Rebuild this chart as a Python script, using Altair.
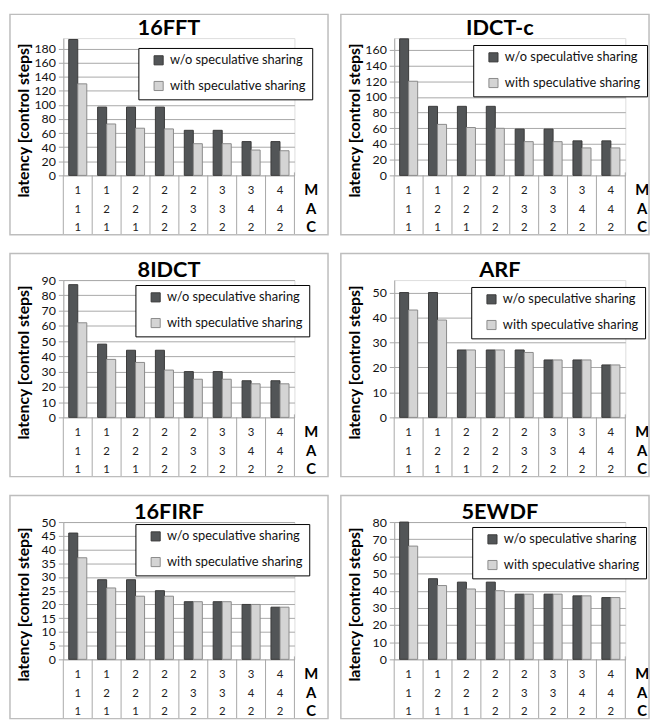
import altair as alt
import pandas as pd

# ---------------- data ----------------
CATS = ["g1", "g2", "g3", "g4", "g5", "g6", "g7", "g8"]
M_ROW = [1, 1, 2, 2, 2, 3, 3, 4]
A_ROW = [1, 2, 2, 2, 3, 3, 4, 4]
C_ROW = [1, 1, 1, 2, 2, 2, 2, 2]
ROW_NAMES = ["M", "A", "C"]
SERIES = ["w/o speculative sharing", "with speculative sharing"]
Y_TITLE = "latency [control steps]"

TITLES = ["16FFT", "IDCT-c", "8IDCT", "ARF", "16FIRF", "5EWDF"]

FFT16_WO = [193, 97, 97, 97, 64, 64, 48, 48]
FFT16_WITH = [130, 73, 67, 66, 45, 45, 36, 35]
IDCTC_WO = [174, 88, 88, 88, 59, 59, 44, 44]
IDCTC_WITH = [120, 65, 61, 60, 43, 43, 35, 35]
IDCT8_WO = [87, 48, 44, 44, 30, 30, 24, 24]
IDCT8_WITH = [62, 38, 36, 31, 25, 25, 22, 22]
ARF_WO = [50, 50, 27, 27, 27, 23, 23, 21]
ARF_WITH = [43, 39, 27, 27, 26, 23, 23, 21]
FIRF16_WO = [46, 29, 29, 25, 21, 21, 20, 19]
FIRF16_WITH = [37, 26, 23, 23, 21, 21, 20, 19]
EWDF5_WO = [80, 47, 45, 45, 38, 38, 37, 36]
EWDF5_WITH = [66, 43, 41, 40, 38, 38, 37, 36]

WO = [FFT16_WO, IDCTC_WO, IDCT8_WO, ARF_WO, FIRF16_WO, EWDF5_WO]
WITH = [FFT16_WITH, IDCTC_WITH, IDCT8_WITH, ARF_WITH, FIRF16_WITH, EWDF5_WITH]
Y_MAX = [195, 175, 90, 55, 50, 80]
Y_STEP = [20, 20, 10, 10, 5, 10]

# ---------------- style ----------------
FONT = "Lato"
DARK, DARK_EDGE = "#525557", "#3a3a3a"
LIGHT, LIGHT_EDGE = "#d4d4d4", "#8a8a8a"
GRID = "#a8a8a8"
FRAME = "#bdbdbd"
W, H = 234, 139
TABLE_H = 60
TOPS = [24, 27, 27]
LEFT = 54
RIGHTS = [34, 24]
ROW_BASE = [19, 38, 56.5]
LEGEND_POS = [(76, 10), (80, 7), (73, 5), (78, 7), (73, 2), (79, 5)]


def panel(i):
    title = TITLES[i]
    right = RIGHTS[i % 2]
    top = TOPS[i // 2]
    lx, ly = LEGEND_POS[i]
    bars = pd.DataFrame({
        "cat": CATS * 2,
        "series": [SERIES[0]] * 8 + [SERIES[1]] * 8,
        "value": WO[i] + WITH[i],
    })
    table = pd.DataFrame({"cat": CATS, "M": M_ROW, "A": A_ROW, "C": C_ROW})
    one = pd.DataFrame({"t": [title]})

    xscale = alt.Scale(domain=CATS, paddingInner=0, paddingOuter=0)
    ticks = list(range(0, Y_MAX[i] + 1, Y_STEP[i]))

    leg = alt.Legend(
        orient="none", legendX=lx, legendY=ly, title=None, direction="vertical",
        strokeColor="#000000", fillColor="#ffffff", padding=6,
        symbolType="square", symbolSize=85, symbolStrokeWidth=1,
        symbolOffset=8, labelOffset=5, rowPadding=11,
        labelFont=FONT, labelFontSize=13, labelColor="#111111",
    )

    bar_layer = alt.Chart(bars).mark_bar(strokeWidth=1).encode(
        x=alt.X("cat:N", sort=CATS, scale=xscale, axis=None),
        xOffset=alt.XOffset("series:N", sort=SERIES,
                            scale=alt.Scale(domain=SERIES, paddingInner=0, paddingOuter=0.6)),
        y=alt.Y("value:Q",
                scale=alt.Scale(domain=[0, Y_MAX[i]], nice=False, zero=True),
                axis=alt.Axis(values=ticks, grid=True, gridColor=GRID, gridWidth=1,
                              domainColor=GRID, tickColor=GRID, tickSize=5,
                              labelPadding=3, labelFont=FONT, labelFontSize=12.5,
                              labelColor="#111111",
                              title=Y_TITLE, titleFont=FONT, titleFontSize=16,
                              titleFontWeight="bold", titleColor="#000000",
                              titleX=-32, titleY=83, titleAngle=270,
                              titleBaseline="bottom", titleAlign="center")),
        color=alt.Color("series:N", sort=SERIES,
                        scale=alt.Scale(domain=SERIES, range=[DARK, LIGHT]), legend=leg),
        stroke=alt.Stroke("series:N", sort=SERIES,
                          scale=alt.Scale(domain=SERIES, range=[DARK_EDGE, LIGHT_EDGE]), legend=leg),
    )

    frame = alt.Chart(one).mark_rect(fillOpacity=0, stroke=FRAME, strokeWidth=1.5).encode(
        x=alt.value(-LEFT), x2=alt.value(W + right),
        y=alt.value(-top), y2=alt.value(H + TABLE_H),
    )

    title_layer = alt.Chart(one).mark_text(
        font=FONT, fontSize=22, fontWeight="bold", baseline="top", align="center",
        color="#000000",
    ).encode(x=alt.value(107), y=alt.value(-20), text="t:N")

    vlines = alt.Chart(table).mark_rule(color=GRID, strokeWidth=1).encode(
        x=alt.X("cat:N", sort=CATS, scale=xscale, axis=None, bandPosition=0),
        y=alt.value(H), y2=alt.value(H + TABLE_H),
    )
    end_line = alt.Chart(one).mark_rule(color=GRID, strokeWidth=1).encode(
        x=alt.value(W), y=alt.value(H - 3), y2=alt.value(H + TABLE_H),
    )

    layers = [bar_layer, vlines, end_line]
    for r, name in enumerate(ROW_NAMES):
        ypix = H + ROW_BASE[r]
        layers.append(
            alt.Chart(table).mark_text(font=FONT, fontSize=11.5, color="#222222",
                                       baseline="alphabetic", align="center").encode(
                x=alt.X("cat:N", sort=CATS, scale=xscale, axis=None),
                y=alt.value(ypix),
                text=alt.Text(f"{name}:N"),
            )
        )
        layers.append(
            alt.Chart(pd.DataFrame({"r": [name]})).mark_text(
                font=FONT, fontSize=15, fontWeight="bold", color="#000000",
                baseline="alphabetic", align="center").encode(
                x=alt.value(W + 17), y=alt.value(ypix + 1), text="r:N")
        )
    layers += [title_layer, frame]

    return alt.layer(*layers).properties(width=W, height=H)


rows = []
for k in range(3):
    row = alt.hconcat(panel(2 * k), panel(2 * k + 1), spacing=9).resolve_scale(
        color="independent", stroke="independent").resolve_legend(
        color="independent", stroke="independent")
    rows.append(row)

chart = alt.vconcat(*rows, spacing=15).resolve_scale(
    color="independent", stroke="independent").resolve_legend(
    color="independent", stroke="independent").properties(padding=0).configure_view(
    stroke=None).configure(font=FONT)

chart.save("out.html", embed_options={"renderer": "svg", "actions": False})
